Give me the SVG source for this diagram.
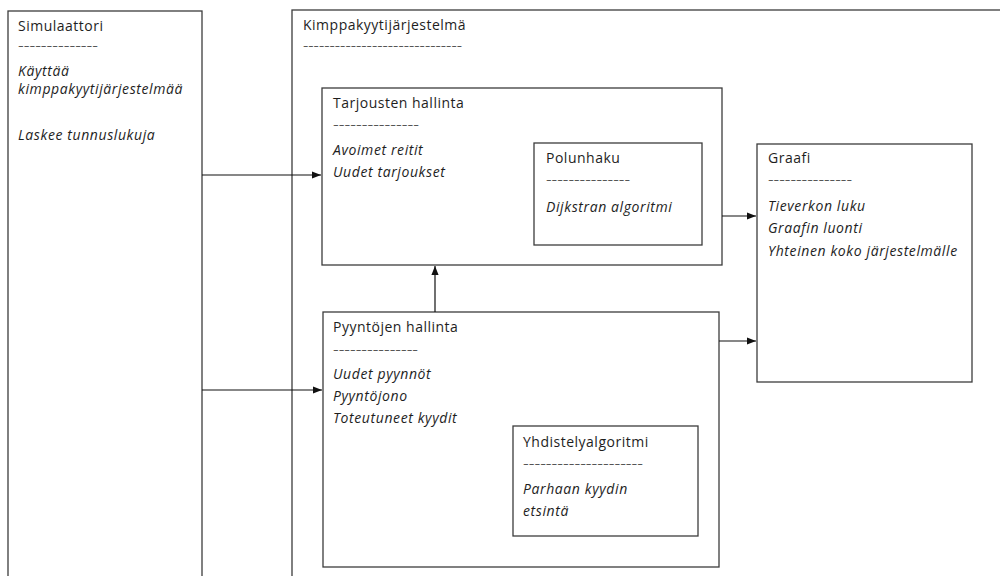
<svg xmlns="http://www.w3.org/2000/svg" width="1000" height="576" viewBox="0 0 1000 576">
<style>
.box{fill:none;stroke:#3c3c3c;stroke-width:1.3}
.t{font-family:"Open Sans","Noto Sans",sans-serif;font-size:14px;letter-spacing:0.5px;fill:#1e1e1e}
.i{font-style:italic;letter-spacing:0.6px}
.d{font-family:"Open Sans","Noto Sans",sans-serif;font-size:13px;fill:#555}
.c{stroke:#111;stroke-width:1.2;fill:none;marker-end:url(#ah)}
</style>
<defs>
<marker id="ah" viewBox="0 0 10 10" refX="10" refY="5" markerWidth="9" markerHeight="9" markerUnits="userSpaceOnUse" orient="auto">
<path d="M0,1 L10,5 L0,9 z" fill="#111"/>
</marker>
</defs>
<rect width="1000" height="576" fill="#fff"/>
<g id="simulaattori">
<rect class="box" x="8" y="11" width="194" height="580"/>
<text class="t" x="18" y="31">Simulaattori</text>
<text class="d" x="18" y="50" textLength="80" lengthAdjust="spacingAndGlyphs">--------------</text>
<text class="t i" x="18" y="76">Käyttää</text>
<text class="t i" x="18" y="94">kimppakyytijärjestelmää</text>
<text class="t i" x="18" y="140">Laskee tunnuslukuja</text>
</g>
<g id="kimppakyytijarjestelma">
<rect class="box" x="292" y="10" width="720" height="580"/>
<text class="t" x="303" y="30">Kimppakyytijärjestelmä</text>
<text class="d" x="303" y="50" textLength="159" lengthAdjust="spacingAndGlyphs">------------------------------</text>
</g>
<g id="tarjousten">
<rect class="box" x="322" y="88" width="400" height="177"/>
<text class="t" x="333" y="108">Tarjousten hallinta</text>
<text class="d" x="333" y="129" textLength="86" lengthAdjust="spacingAndGlyphs">---------------</text>
<text class="t i" x="333" y="155">Avoimet reitit</text>
<text class="t i" x="333" y="177">Uudet tarjoukset</text>
</g>
<g id="polunhaku">
<rect class="box" x="534" y="143" width="168" height="102"/>
<text class="t" x="546" y="163">Polunhaku</text>
<text class="d" x="546" y="184" textLength="84" lengthAdjust="spacingAndGlyphs">---------------</text>
<text class="t i" x="546" y="212">Dijkstran algoritmi</text>
</g>
<g id="graafi">
<rect class="box" x="757" y="144" width="215" height="238"/>
<text class="t" x="768" y="163">Graafi</text>
<text class="d" x="768" y="184" textLength="84" lengthAdjust="spacingAndGlyphs">---------------</text>
<text class="t i" x="768" y="211">Tieverkon luku</text>
<text class="t i" x="768" y="233">Graafin luonti</text>
<text class="t i" x="768" y="256">Yhteinen koko järjestelmälle</text>
</g>
<g id="pyyntojen">
<rect class="box" x="323" y="312" width="396" height="255"/>
<text class="t" x="333" y="332">Pyyntöjen hallinta</text>
<text class="d" x="333" y="354" textLength="85" lengthAdjust="spacingAndGlyphs">---------------</text>
<text class="t i" x="333" y="379">Uudet pyynnöt</text>
<text class="t i" x="333" y="401">Pyyntöjono</text>
<text class="t i" x="333" y="423">Toteutuneet kyydit</text>
</g>
<g id="yhdistely">
<rect class="box" x="513" y="426" width="185" height="110"/>
<text class="t" x="523" y="447">Yhdistelyalgoritmi</text>
<text class="d" x="523" y="468" textLength="120" lengthAdjust="spacingAndGlyphs">---------------------</text>
<text class="t i" x="523" y="494">Parhaan kyydin</text>
<text class="t i" x="523" y="516">etsintä</text>
</g>
<g id="connectors">
<line class="c" x1="202" y1="175" x2="321" y2="175"/>
<line class="c" x1="202" y1="390" x2="322" y2="390"/>
<line class="c" x1="435" y1="312" x2="435" y2="266"/>
<line class="c" x1="722" y1="216" x2="756" y2="216"/>
<line class="c" x1="719" y1="341" x2="756" y2="341"/>
</g>
</svg>
